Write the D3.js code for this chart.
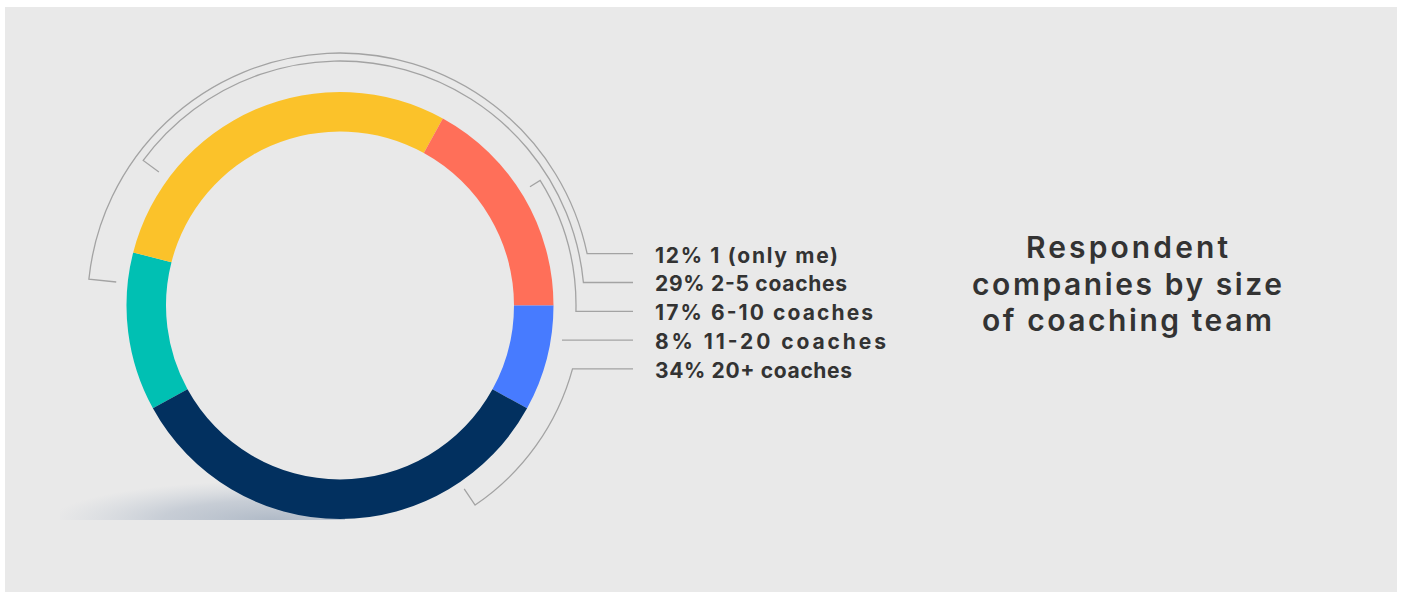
<!DOCTYPE html>
<html>
<head>
<meta charset="utf-8">
<script src="https://cdn.jsdelivr.net/npm/d3@7"></script>
<style>
  body { margin: 0; background: #fff; }
  svg { display: block; }
  text { font-family: Inter, Lato, "Open Sans", sans-serif; fill: #333; }
</style>
</head>
<body>
<div id="chart"></div>
<script>
// values
var categories = ["1 (only me)", "2-5 coaches", "6-10 coaches", "11-20 coaches", "20+ coaches"];
var shares = [12, 29, 17, 8, 34];
var colors = ["#00c0b3", "#fbc22a", "#ff6f59", "#477bff", "#02305f"];
var titleLines = ["Respondent", "companies by size", "of coaching team"];

(function(){
    var width = 1408, height = 593;
    var cx = 340, cy = 305.5;
    var outerR = 213.5, innerR = 174;

    // widths the text is stretched to, matching the reference
    var labelWidths = [183, 192, 218, 231, 197];
    var titleWidths = [202, 310, 290];

    // bracket lines around the ring (screen angles in degrees, 0 = 3 o'clock)
    var brackets = [
        {r: 252.5, a0: 186, tick: 225, ccw: false},
        {r: 244.5, a0: 216.4, tick: 225, ccw: false},
        {r: 236, a0: 328, tick: 224, ccw: false},
        {r: 222, a0: null},
        {r: 241, a0: 55.9, tick: 221.5, ccw: true}
    ];

    var svg = d3.select("#chart")
        .append("svg")
        .attr("width", width)
        .attr("height", height);

    svg.append("rect")
        .attr("x", 5).attr("y", 7)
        .attr("width", 1392).attr("height", 585)
        .attr("fill", "#e9e9e9");

    var defs = svg.append("defs");
    var grad = defs.append("radialGradient")
        .attr("id", "shadow")
        .attr("cx", "75%").attr("cy", "100%").attr("r", "78%")
        .attr("fx", "75%").attr("fy", "100%");
    grad.append("stop").attr("offset", "0%").attr("stop-color", "#b0bac7").attr("stop-opacity", 1);
    grad.append("stop").attr("offset", "50%").attr("stop-color", "#bcc4cf").attr("stop-opacity", 0.75);
    grad.append("stop").attr("offset", "100%").attr("stop-color", "#c8cfd8").attr("stop-opacity", 0);

    svg.append("rect")
        .attr("x", 60).attr("y", 470)
        .attr("width", 285).attr("height", 50)
        .attr("fill", "url(#shadow)");

    // the 11-20 slice starts at 3 o'clock
    var start = Math.PI / 2 + 2 * Math.PI * d3.sum(shares.slice(3)) / d3.sum(shares);
    var pie = d3.pie()
        .sort(null)
        .value(function(d){ return d; })
        .startAngle(start)
        .endAngle(start + 2 * Math.PI);

    var arc = d3.arc()
        .innerRadius(innerR)
        .outerRadius(outerR);

    var g = svg.append("g")
        .attr("transform", "translate(" + cx + "," + cy + ")");

    g.selectAll(".slice")
        .data(pie(shares))
        .enter()
        .append("path")
        .attr("class", "slice")
        .attr("d", arc)
        .attr("fill", function(d, i){ return colors[i]; });

    // labels
    var y = d3.scalePoint()
        .domain(categories)
        .range([262.5, 377.7]);

    var labelX = 655, lineEnd = 633;
    var rad = Math.PI / 180;

    svg.selectAll(".label")
        .data(categories)
        .enter()
        .append("text")
        .attr("class", "label")
        .attr("x", labelX)
        .attr("y", function(d){ return y(d); })
        .attr("font-size", 21)
        .attr("font-weight", 700)
        .attr("textLength", function(d, i){ return labelWidths[i]; })
        .attr("lengthAdjust", "spacing")
        .text(function(d, i){ return shares[i] + "% " + d; });

    svg.selectAll(".bracket")
        .data(categories)
        .enter()
        .append("path")
        .attr("class", "bracket")
        .attr("fill", "none")
        .attr("stroke", "#a3a3a3")
        .attr("stroke-width", 1.3)
        .attr("d", function(d, i){
            var b = brackets[i];
            var ly = y(d) - 8.8;
            var p = d3.path();
            if (b.a0 === null) {
                p.moveTo(cx + b.r, ly);
                p.lineTo(lineEnd, ly);
                return p.toString();
            }
            var a0 = b.a0 * rad;
            var a1 = Math.asin((ly - cy) / b.r);
            p.moveTo(cx + b.tick * Math.cos(a0), cy + b.tick * Math.sin(a0));
            p.arc(cx, cy, b.r, a0, a1, b.ccw);
            p.lineTo(lineEnd, ly);
            return p.toString();
        });

    // title
    svg.append("text")
        .attr("class", "title")
        .attr("text-anchor", "middle")
        .attr("font-size", 30)
        .attr("font-weight", 600)
        .selectAll("tspan")
        .data(titleLines)
        .enter()
        .append("tspan")
        .attr("x", 1127)
        .attr("y", function(d, i){ return 258 + i * 36.5; })
        .attr("textLength", function(d, i){ return titleWidths[i]; })
        .attr("lengthAdjust", "spacing")
        .text(function(d){ return d; });
})();
</script>
</body>
</html>
